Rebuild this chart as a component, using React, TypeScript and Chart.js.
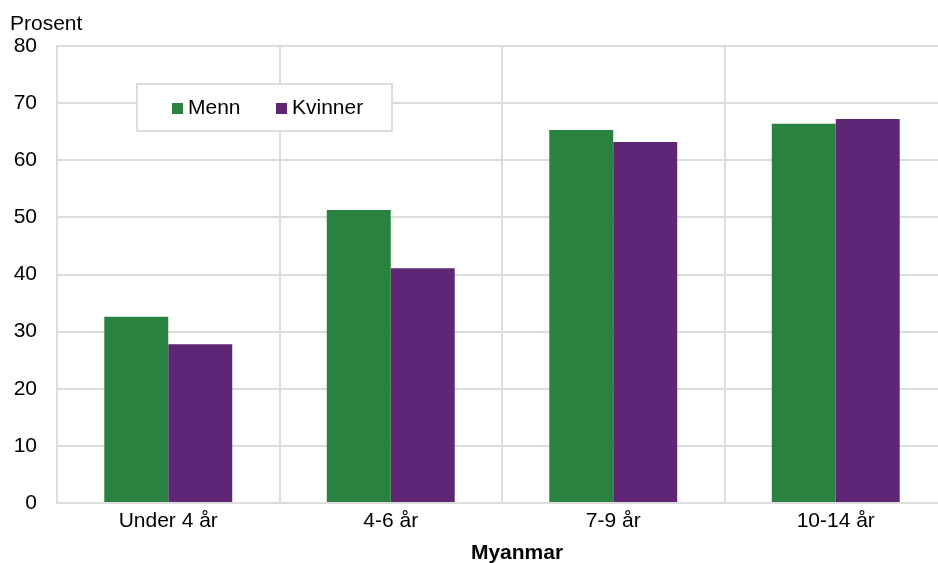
import React, { useEffect, useRef } from "react";
import { Chart, registerables } from "chart.js";

Chart.register(...registerables);

const categories = ["Under 4 år", "4-6 år", "7-9 år", "10-14 år"];
const menn = [32.6, 51.3, 65.3, 66.4];
const kvinner = [27.8, 41.1, 63.2, 67.2];
const seriesLabels = ["Menn", "Kvinner"];
const yTitle = "Prosent";
const xTitle = "Myanmar";

const GREEN = "#29823f";
const PURPLE = "#5f2675";
const GRID = "#dcdcdc";
const FONT = "'Liberation Sans', Arial, sans-serif";

const overlayPlugin = {
  id: "overlay",
  afterDraw(chart: any) {
    const ctx = chart.ctx;
    ctx.save();
    ctx.fillStyle = "#000";
    ctx.font = `21px ${FONT}`;
    ctx.textAlign = "left";
    ctx.textBaseline = "alphabetic";
    ctx.fillText(yTitle, 10, 30);

    ctx.font = `bold 21px ${FONT}`;
    ctx.textAlign = "center";
    ctx.fillText(xTitle, 517, 559);

    // legend box
    ctx.fillStyle = "#fff";
    ctx.fillRect(137, 84, 255, 47);
    ctx.strokeStyle = GRID;
    ctx.lineWidth = 2;
    ctx.strokeRect(137, 84, 255, 47);
    const xs = [172, 276];
    chart.data.datasets.forEach((ds: any, i: number) => {
      ctx.fillStyle = ds.backgroundColor;
      ctx.fillRect(xs[i], 103, 11, 11);
      ctx.fillStyle = "#000";
      ctx.font = `21px ${FONT}`;
      ctx.textAlign = "left";
      ctx.fillText(ds.label, xs[i] + 16, 114);
    });
    ctx.restore();
  },
};

export default function App() {
  const ref = useRef<HTMLCanvasElement>(null);
  useEffect(() => {
    if (!ref.current) return;
    Chart.defaults.font.family = FONT;
    const chart = new Chart(ref.current, {
      type: "bar",
      data: {
        labels: categories,
        datasets: [
          { label: seriesLabels[0], data: menn, backgroundColor: GREEN },
          { label: seriesLabels[1], data: kvinner, backgroundColor: PURPLE },
        ],
      },
      options: {
        responsive: false,
        animation: false,
        devicePixelRatio: 1,
        layout: { padding: { left: 0, right: 13, top: 46, bottom: 0 } },
        plugins: {
          legend: { display: false },
          tooltip: { enabled: false },
          title: { display: false },
        },
        datasets: {
          bar: { categoryPercentage: 0.575, barPercentage: 1 },
        },
        scales: {
          x: {
            grid: { color: GRID, lineWidth: 2, drawTicks: false, offset: true },
            border: { color: GRID, width: 2 },
            ticks: { color: "#000", font: { size: 21 }, padding: 6, maxRotation: 0 },
            afterFit: (s: any) => {
              s.height = 60;
            },
          },
          y: {
            min: 0,
            max: 80,
            ticks: { stepSize: 10, color: "#000", font: { size: 21 }, padding: 20 },
            grid: { color: GRID, lineWidth: 2, drawTicks: false },
            border: { color: GRID, width: 2 },
            afterFit: (s: any) => {
              s.width = 57;
            },
          },
        },
      },
      plugins: [overlayPlugin],
    });
    return () => chart.destroy();
  }, []);
  return (
    <div
      style={{
        position: "absolute",
        left: 0,
        top: 0,
        width: 938,
        height: 563,
        overflow: "hidden",
        background: "#fff",
      }}
    >
      <canvas ref={ref} width={960} height={563} style={{ display: "block" }} />
    </div>
  );
}
